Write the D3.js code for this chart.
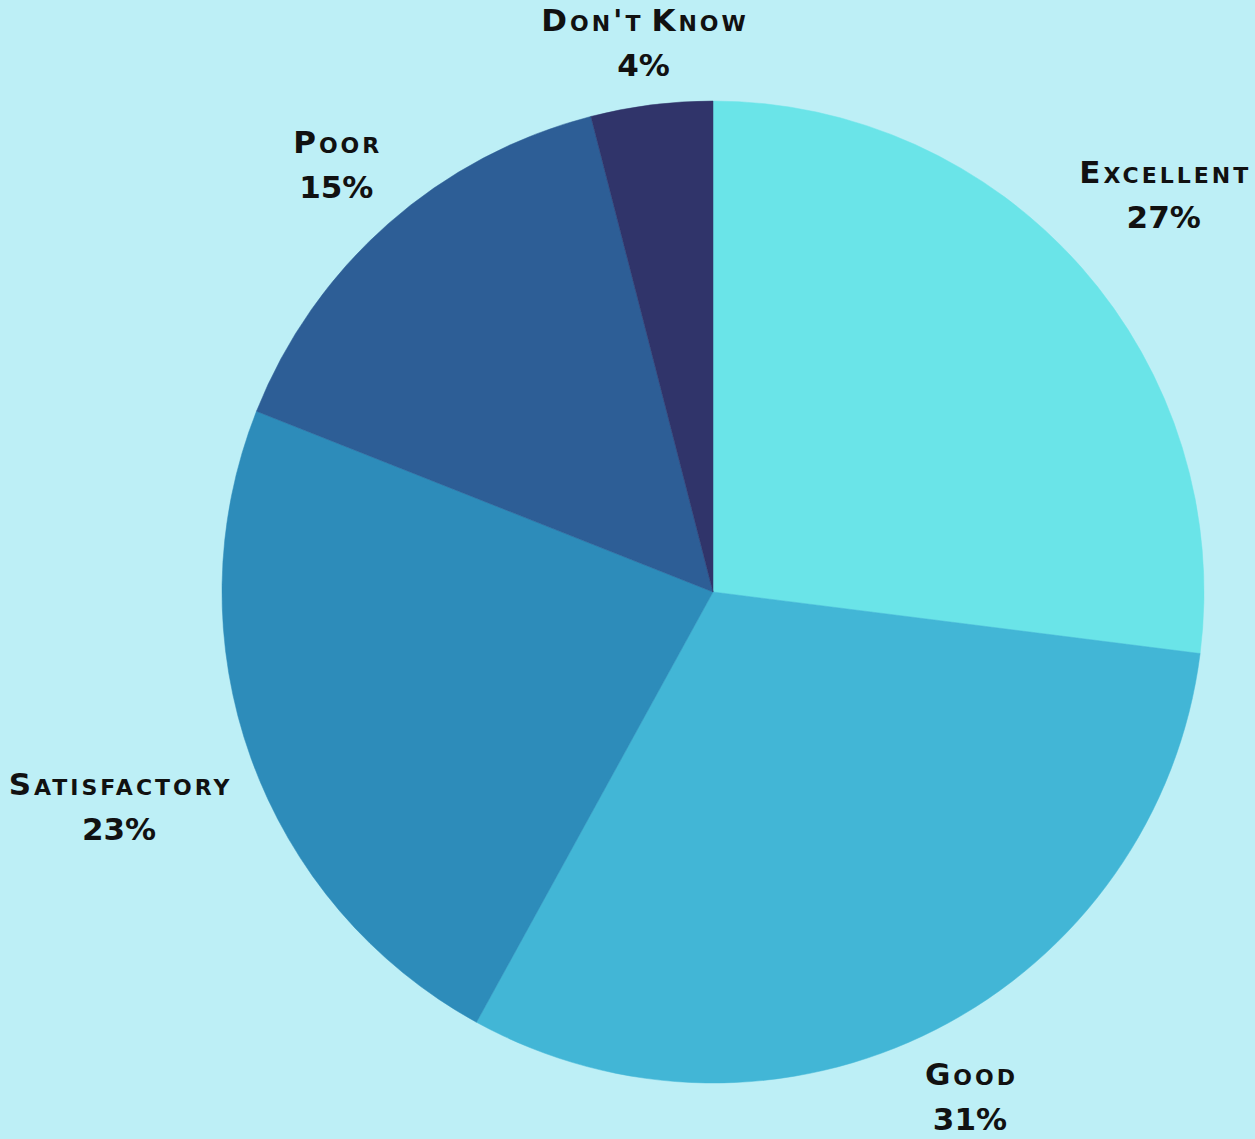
<!DOCTYPE html>
<html>
<head>
<meta charset="utf-8">
<script src="https://cdn.jsdelivr.net/npm/d3@7"></script>
<style>
  html, body { margin: 0; padding: 0; background: #bdeff6; }
  svg { display: block; }
  .lbl { font-family: "DejaVu Sans", sans-serif; font-weight: bold; font-variant: small-caps; fill: #111; }
</style>
</head>
<body>
<svg id="chart" width="1255" height="1139"></svg>
<script>
// Survey ratings, clockwise from 12 o'clock
const categories = ["Excellent", "Good", "Satisfactory", "Poor", "Don't Know"];
const values = [27, 31, 23, 15, 4];
const colors = ["#6ae4e8", "#42b6d6", "#2d8cba", "#2d5e96", "#30346a"];

const W = 1255, H = 1139;
const cx = 713, cy = 592, radius = 491;
const labelGap = 25;          // distance from rim to the nearest edge of a label
const fontSize = 31, nameSpacing = 3, pctSpacing = 0, lineGap = 45;
const capH = fontSize * 0.73;

const svg = d3.select("#chart");
svg.append("rect").attr("width", W).attr("height", H).attr("fill", "#bdeff6");

const total = d3.sum(values);
const pie = d3.pie().sort(null).value(d => d.value);
const arcs = pie(categories.map((c, i) => ({ name: c, value: values[i], color: colors[i] })));
const arc = d3.arc().innerRadius(0).outerRadius(radius);

const g = svg.append("g").attr("transform", `translate(${cx},${cy})`);

g.selectAll("path.slice")
  .data(arcs)
  .join("path")
  .attr("class", "slice")
  .attr("d", arc)
  .attr("fill", d => d.data.color)
  .attr("stroke", d => d.data.color)
  .attr("stroke-width", 0.5);

// Two-line labels pushed out along each slice's mid angle until the
// label block sits labelGap px clear of the rim.
const labels = g.selectAll("text.lbl")
  .data(arcs)
  .join("text")
  .attr("class", "lbl")
  .attr("text-anchor", "middle")
  .style("font-size", fontSize + "px");

labels.append("tspan").attr("class", "name")
  .attr("x", nameSpacing / 2).attr("y", 0)
  .style("letter-spacing", nameSpacing + "px")
  .style("word-spacing", "-6px")
  .text(d => d.data.name);
labels.append("tspan").attr("class", "pct")
  .attr("x", pctSpacing / 2).attr("y", lineGap)
  .style("letter-spacing", pctSpacing + "px")
  .text(d => Math.round(d.data.value / total * 100) + "%");

// nearest distance from the pie centre to an axis-aligned box
function nearest(bx, by, hw, hh) {
  const qx = Math.max(bx - hw, Math.min(0, bx + hw));
  const qy = Math.max(by - hh, Math.min(0, by + hh));
  return Math.hypot(qx, qy);
}

labels.each(function(d) {
  const sel = d3.select(this);
  const w = Math.max(
    sel.select("tspan.name").node().getComputedTextLength() - nameSpacing,
    sel.select("tspan.pct").node().getComputedTextLength() - pctSpacing);
  const h = capH + lineGap;
  const a = (d.startAngle + d.endAngle) / 2;
  const ux = Math.sin(a), uy = -Math.cos(a);
  let lo = 0, hi = 2000;
  for (let k = 0; k < 60; k++) {
    const t = (lo + hi) / 2;
    if (nearest(t * ux, t * uy, w / 2, h / 2) < radius + labelGap) lo = t; else hi = t;
  }
  const bx = lo * ux, by = lo * uy;
  // box centre -> first baseline (box spans capH above line 1 to line-2 baseline)
  const y0 = by - h / 2 + capH;
  sel.attr("transform", `translate(${bx},${y0})`);
});
</script>
</body>
</html>
